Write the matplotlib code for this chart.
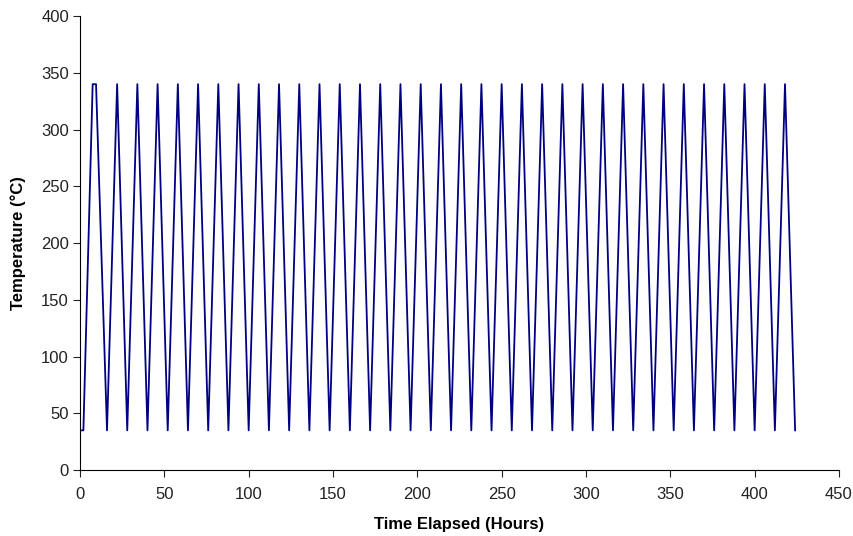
import matplotlib
matplotlib.use("Agg")
import matplotlib.pyplot as plt

# hours elapsed and oven temperature (C)
hours = [
    0, 2, 7.5, 9.5, 16, 22, 28, 34, 40, 46, 52, 58, 64, 70, 76, 82, 88, 94,
    100, 106, 112, 118, 124, 130, 136, 142, 148, 154, 160, 166, 172, 178,
    184, 190, 196, 202, 208, 214, 220, 226, 232, 238, 244, 250, 256, 262,
    268, 274, 280, 286, 292, 298, 304, 310, 316, 322, 328, 334, 340, 346,
    352, 358, 364, 370, 376, 382, 388, 394, 400, 406, 412, 418, 424,
]
temps = [
    35, 35, 340, 340, 35, 340, 35, 340, 35, 340, 35, 340, 35, 340, 35, 340,
    35, 340, 35, 340, 35, 340, 35, 340, 35, 340, 35, 340, 35, 340, 35, 340,
    35, 340, 35, 340, 35, 340, 35, 340, 35, 340, 35, 340, 35, 340, 35, 340,
    35, 340, 35, 340, 35, 340, 35, 340, 35, 340, 35, 340, 35, 340, 35, 340,
    35, 340, 35, 340, 35, 340, 35, 340, 35,
]
xticks = [0, 50, 100, 150, 200, 250, 300, 350, 400, 450]
yticks = [0, 50, 100, 150, 200, 250, 300, 350, 400]

plt.rcParams["font.family"] = ["Liberation Sans", "DejaVu Sans"]

fig = plt.figure(figsize=(8.54, 5.36), dpi=100)
ax = fig.add_axes([0.0937, 0.123, 0.8887, 0.847])
ax.plot(hours, temps, color="#000080", linewidth=1.3)

ax.set_xlim(0, 450)
ax.set_ylim(0, 400)
ax.set_xticks(xticks)
ax.set_yticks(yticks)
ax.tick_params(direction="out", length=5, width=0.8, labelsize=12,
               colors="#222222", pad=3)
ax.tick_params(axis="x", pad=7)
for s in ["top", "right"]:
    ax.spines[s].set_visible(False)
for s in ["left", "bottom"]:
    ax.spines[s].set_linewidth(0.8)

ax.set_xlabel("Time Elapsed (Hours)", fontsize=12, fontweight="bold", labelpad=11)
ax.set_ylabel("Temperature (\u00b0C)", fontsize=12, fontweight="bold", labelpad=11)

fig.savefig("out.png", dpi=100)
